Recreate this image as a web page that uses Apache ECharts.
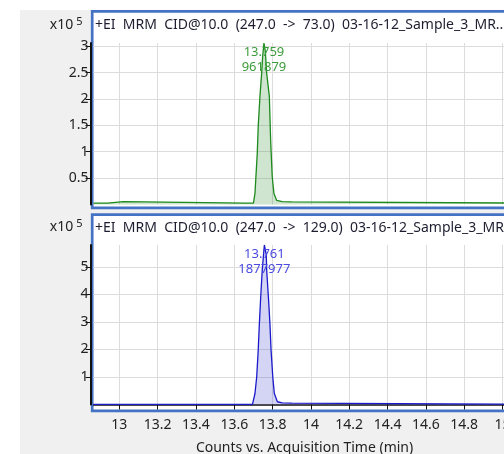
<!DOCTYPE html>
<html><head><meta charset="utf-8">
<script src="https://cdn.jsdelivr.net/npm/echarts@6/dist/echarts.min.js"></script>
<style>html,body{margin:0;padding:0;background:#fff}#c{width:504px;height:454px}</style>
</head><body><div id="c"></div>
<script>
// ---- data ----
const panelTitles = [
  '+EI  MRM  CID@10.0  (247.0  ->  73.0)  03-16-12_Sample_3_MR...',
  '+EI  MRM  CID@10.0  (247.0  ->  129.0)  03-16-12_Sample_3_MR...'
];
const xAxisName = 'Counts vs. Acquisition Time (min)';
const yScaleLabel = 'x10';
const yScaleExp = '5';
const peakTimeLabels = ['13.759', '13.761'];
const peakAreaLabels = ['961879', '1877977'];

const xTicks = [13, 13.2, 13.4, 13.6, 13.8, 14, 14.2, 14.4, 14.6, 14.8, 15];
const yTicks1 = [50000, 100000, 150000, 200000, 250000, 300000];
const yTicks2 = [100000, 200000, 300000, 400000, 500000];

const greenTimes = [12.865, 12.94, 12.942, 13.02, 13.022, 13.655, 13.66, 13.665, 13.700, 13.708, 13.713, 13.720, 13.725, 13.734, 13.743, 13.748, 13.755, 13.762, 13.769, 13.783, 13.790, 13.798, 13.807, 13.821, 13.85, 13.90, 13.905, 15.1];
const greenCounts = [2700, 2700, 5500, 5500, 2700, 2700, 6000, 2700, 2700, 21000, 53000, 97000, 148000, 205000, 249000, 280000, 306000, 290000, 249000, 205000, 120000, 53000, 21000, 8000, 5500, 5000, 2700, 2700];

const blueTimes = [12.865, 13.695, 13.700, 13.708, 13.717, 13.725, 13.731, 13.738, 13.746, 13.757, 13.767, 13.769, 13.778, 13.786, 13.792, 13.801, 13.809, 13.825, 13.85, 13.90, 13.905, 15.1];
const blueCounts = [500, 500, 2000, 40000, 100000, 198000, 295000, 392000, 489000, 580000, 545000, 490000, 392000, 295000, 198000, 100000, 40000, 10000, 6000, 5000, 1000, 1000];

const xMin = 12.865, xMax = 15.1;
const yMax1 = 306000, yMax2 = 580000;

// ---- chart ----
const FONT = '"Noto Sans", "DejaVu Sans", sans-serif';
const chart = echarts.init(document.getElementById('c'), null, {renderer: 'canvas'});

function buildData(times, counts, color, i) {
  let apex = 0;
  counts.forEach((v, k) => { if (v > counts[apex]) apex = k; });
  return times.map((t, k) => {
    if (k !== apex) return [t, counts[k]];
    return {
      value: [t, counts[k]],
      label: {
        show: true, position: 'bottom', distance: 2,
        formatter: peakTimeLabels[i] + '\n' + peakAreaLabels[i],
        color: color, fontSize: 13, fontFamily: FONT, lineHeight: 15
      }
    };
  });
}

const yLabelFmt = v => String(+(v / 1e5).toFixed(2));

function yAxisDef(gi, max, ticks) {
  return {
    type: 'value', gridIndex: gi, min: 0, max: max,
    offset: 3,
    name: '{a|' + yScaleLabel + '}{b|' + yScaleExp + '}',
    nameLocation: 'end', nameGap: 9,
    nameTextStyle: {
      align: 'right', padding: [0, 8, 0, 0],
      rich: {
        a: {fontSize: 14, fontFamily: FONT, color: '#222'},
        b: {fontSize: 11, fontFamily: FONT, color: '#222', padding: [0, 0, 7, 3]}
      }
    },
    axisLine: {show: true, lineStyle: {color: '#111', width: 2}},
    axisTick: {show: true, length: 5, customValues: ticks, lineStyle: {color: '#111', width: 1}},
    axisLabel: {show: true, customValues: ticks, formatter: yLabelFmt, color: '#222', fontSize: 14, fontFamily: FONT, margin: 2},
    splitLine: {show: true, lineStyle: {color: '#dcdcdc', width: 1}}
  };
}

function xAxisDef(gi, showAxis) {
  return {
    type: 'value', gridIndex: gi, min: xMin, max: xMax,
    offset: showAxis ? 10.5 : 0,
    name: showAxis ? xAxisName : '',
    nameLocation: 'middle', nameGap: 26,
    nameTextStyle: {fontSize: 14, fontFamily: FONT, color: '#222', padding: [0, 6, 0, 0]},
    axisLine: {show: showAxis, lineStyle: {color: '#111', width: 1.5}},
    axisTick: {show: showAxis, length: 5, customValues: xTicks, lineStyle: {color: '#111'}},
    axisLabel: {show: showAxis, customValues: xTicks, color: '#222', fontSize: 14, fontFamily: FONT, margin: 3},
    splitLine: {show: true, lineStyle: {color: '#dcdcdc', width: 1}}
  };
}

const option = {
  animation: false,
  backgroundColor: '#ffffff',
  graphic: [
    {type: 'rect', z: -10, shape: {x: 20, y: 10, width: 500, height: 460}, style: {fill: '#f0f0f0'}},
    {type: 'rect', z: -9, shape: {x: 92.2, y: 11.3, width: 430, height: 196.6}, style: {fill: '#ffffff', stroke: '#4472c4', lineWidth: 2.7}},
    {type: 'rect', z: -9, shape: {x: 92.2, y: 214.6, width: 430, height: 196.2}, style: {fill: '#ffffff', stroke: '#4472c4', lineWidth: 2.7}}
  ],
  title: [
    {text: panelTitles[0], left: 95, top: 18, padding: 0, textStyle: {fontSize: 14, fontWeight: 'normal', fontFamily: FONT, color: '#1e1e30'}},
    {text: panelTitles[1], left: 95, top: 221, padding: 0, textStyle: {fontSize: 14, fontWeight: 'normal', fontFamily: FONT, color: '#1e1e30'}}
  ],
  grid: [
    {left: 93.5, width: 428.1, top: 43, height: 161.5, containLabel: false, outerBoundsMode: 'none'},
    {left: 93.5, width: 428.1, top: 245, height: 159.5, containLabel: false, outerBoundsMode: 'none'}
  ],
  xAxis: [xAxisDef(0, false), xAxisDef(1, true)],
  yAxis: [yAxisDef(0, yMax1, yTicks1), yAxisDef(1, yMax2, yTicks2)],
  series: [
    {
      type: 'line', xAxisIndex: 0, yAxisIndex: 0, showSymbol: true, symbol: 'circle', symbolSize: 0,
      data: buildData(greenTimes, greenCounts, '#3c9c3c', 0),
      lineStyle: {color: '#1c8a1c', width: 1.3},
      itemStyle: {color: '#1c8a1c'},
      areaStyle: {color: 'rgba(60,150,60,0.35)'},
      z: 5
    },
    {
      type: 'line', xAxisIndex: 1, yAxisIndex: 1, showSymbol: true, symbol: 'circle', symbolSize: 0,
      data: buildData(blueTimes, blueCounts, '#4a4ae0', 1),
      lineStyle: {color: '#1a1acc', width: 1.3},
      itemStyle: {color: '#1a1acc'},
      areaStyle: {color: 'rgba(80,80,210,0.35)'},
      z: 5
    }
  ]
};
chart.setOption(option);
</script></body></html>
